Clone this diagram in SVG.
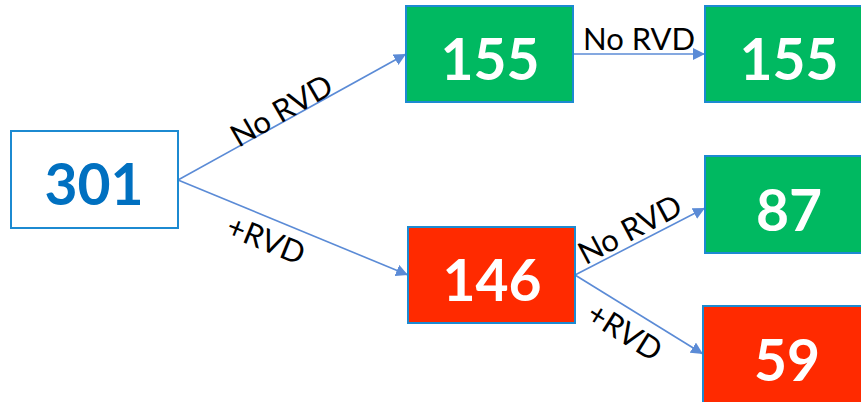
<svg xmlns="http://www.w3.org/2000/svg" width="861" height="402" viewBox="0 0 861 402">
  <defs>
    <marker id="arrow" viewBox="0 0 10 10" refX="10" refY="5" markerWidth="12" markerHeight="12" markerUnits="userSpaceOnUse" orient="auto">
      <path d="M0,0 L10,5 L0,10 z" fill="#5B8BD6"/>
    </marker>
    <style>
      .edge { stroke: #5B8BD6; stroke-width: 1.6; fill: none; marker-end: url(#arrow); }
      .box { stroke: #1C8AD1; stroke-width: 2; }
      .green { fill: #00B961; }
      .red { fill: #FF2A00; }
      .num { font-family: Lato, "Open Sans", "Liberation Sans", sans-serif; font-weight: bold; font-size: 57px; text-anchor: middle; fill: #FFFFFF; }
      .lbl { font-family: Lato, "Open Sans", "Liberation Sans", sans-serif; font-size: 31px; text-anchor: middle; fill: #000000; }
    </style>
  </defs>
  <rect width="861" height="402" fill="#FFFFFF"/>

  <g id="connectors">
    <line class="edge" x1="178" y1="180" x2="406" y2="54"/>
    <line class="edge" x1="178" y1="180" x2="408" y2="275"/>
    <line class="edge" x1="573" y1="54" x2="705" y2="54"/>
    <line class="edge" x1="575" y1="275" x2="705" y2="208"/>
    <line class="edge" x1="575" y1="275" x2="703" y2="354"/>
    <text class="lbl" transform="translate(287,120) rotate(-30)">No RVD</text>
    <text class="lbl" transform="translate(262,250) rotate(22)">+RVD</text>
    <text class="lbl" x="639" y="50">No RVD</text>
    <text class="lbl" transform="translate(635,239) rotate(-28)">No RVD</text>
    <text class="lbl" transform="translate(619,341) rotate(32)">+RVD</text>
  </g>

  <g id="n301">
    <rect class="box" x="11" y="131" width="167" height="97" fill="#FFFFFF"/>
    <text class="num" x="94" y="205" style="fill:#0070C0">301</text>
  </g>
  <g id="n155a">
    <rect class="box green" x="406" y="6" width="167" height="96"/>
    <text class="num" x="490" y="80">155</text>
  </g>
  <g id="n155b">
    <rect class="box green" x="705" y="6" width="170" height="96"/>
    <text class="num" x="789" y="80">155</text>
  </g>
  <g id="n87">
    <rect class="box green" x="705" y="156" width="170" height="97"/>
    <text class="num" x="789" y="231">87</text>
  </g>
  <g id="n146">
    <rect class="box red" x="408" y="227" width="167" height="96"/>
    <text class="num" x="492" y="301">146</text>
  </g>
  <g id="n59">
    <rect class="box red" x="703" y="306" width="172" height="110"/>
    <text class="num" x="787" y="381">59</text>
  </g>
</svg>
